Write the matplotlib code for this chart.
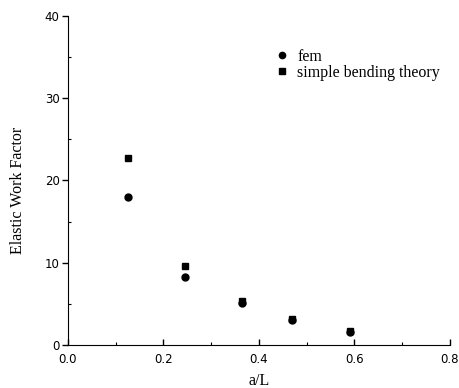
import matplotlib
matplotlib.use("Agg")
import matplotlib.pyplot as plt
from matplotlib.ticker import MultipleLocator

# data
a_over_L = [0.125, 0.245, 0.365, 0.47, 0.59]
fem = [18.0, 8.3, 5.1, 3.0, 1.6]
bending = [22.7, 9.6, 5.3, 3.1, 1.7]

fig = plt.figure(figsize=(4.59, 3.88), dpi=100)
ax = fig.add_axes([0.148, 0.111, 0.832, 0.848])

ax.plot(a_over_L, fem, "o", color="black", markersize=5, label="fem")
ax.plot(a_over_L, bending, "s", color="black", markersize=5, label="simple bending theory")

ax.set_xlim(0, 0.8)
ax.set_ylim(0, 40)
ax.xaxis.set_major_locator(MultipleLocator(0.2))
ax.xaxis.set_minor_locator(MultipleLocator(0.1))
ax.yaxis.set_major_locator(MultipleLocator(10))
ax.yaxis.set_minor_locator(MultipleLocator(5))
ax.xaxis.set_major_formatter(plt.FuncFormatter(lambda v, p: f"{v:.1f}"))

ax.tick_params(axis="x", which="major", direction="in", length=4, width=1, pad=6, labelsize=8.5)
ax.tick_params(axis="y", which="major", direction="out", length=4, width=1, pad=2, labelsize=8.5)
ax.tick_params(which="minor", direction="in", length=2.5, width=0.8)

ax.spines["top"].set_visible(False)
ax.spines["right"].set_visible(False)

ax.set_xlabel("a/L", family="Liberation Serif", fontsize=11.5)
ax.xaxis.set_label_coords(0.5, -0.085)
ax.set_ylabel("Elastic Work Factor", family="Liberation Serif", fontsize=11.5)
ax.yaxis.set_label_coords(-0.11, 0.47)

ax.legend(loc="upper left", bbox_to_anchor=(0.519, 0.925), frameon=False, borderpad=0,
          prop={"family": "Liberation Serif", "size": 11.5}, handletextpad=0.45,
          handlelength=1.0, labelspacing=0.0, markerscale=0.9)

fig.savefig("out.png", dpi=100)
